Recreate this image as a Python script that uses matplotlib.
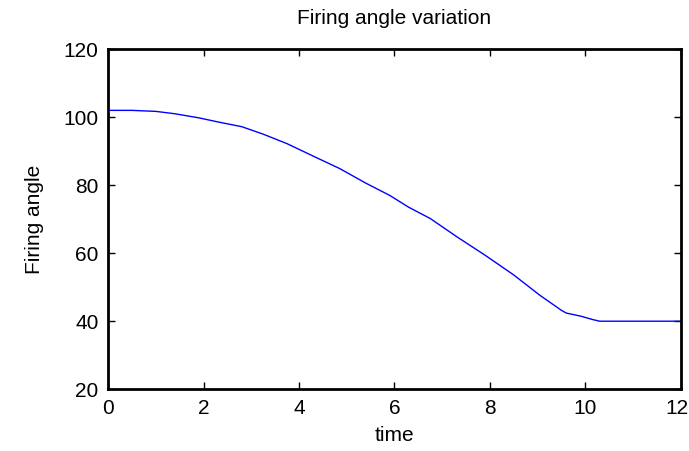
import matplotlib.pyplot as plt
from matplotlib.transforms import ScaledTranslation

# Firing angle vs time
time = [0.0, 0.5, 1.0, 1.4, 1.9, 2.3, 2.8, 3.25, 3.75, 4.35, 4.85, 5.4, 5.9,
        6.3, 6.75, 7.3, 7.9, 8.5, 9.05, 9.5, 9.6, 9.9, 10.15, 10.3, 11.0, 12.0]
angle = [102.0, 102.0, 101.7, 101.0, 99.8, 98.6, 97.2, 95.0, 92.2, 88.2, 84.9, 80.6, 77.0,
         73.5, 70.2, 64.9, 59.4, 53.6, 47.6, 43.2, 42.4, 41.5, 40.5, 40.0, 40.0, 40.0]
xticks = [0, 2, 4, 6, 8, 10, 12]
yticks = [20, 40, 60, 80, 100, 120]

plt.rcParams['font.family'] = ['Liberation Sans', 'DejaVu Sans']

fig = plt.figure(figsize=(6.89, 4.51), dpi=100)
ax = fig.add_axes([0.157, 0.137, 0.831, 0.754])
ax.plot(time, angle, color='#0000ff', linewidth=1.0)

ax.set_xlim(0, 12)
ax.set_ylim(20, 120)
ax.set_xticks(xticks)
ax.set_yticks(yticks)
ax.tick_params(direction='in', top=True, right=True, length=5, width=1,
               labelsize=15, pad=7)
for s in ax.spines.values():
    s.set_linewidth(2)

# keep the last x label inside the figure
lab = ax.get_xticklabels()[-1]
lab.set_transform(lab.get_transform() + ScaledTranslation(-4 / 100, 0, fig.dpi_scale_trans))

ax.set_xlabel("time", fontsize=15, labelpad=6)
ax.set_ylabel("Firing angle", fontsize=15, labelpad=14)
ax.set_title("Firing angle variation", fontsize=15, pad=18)

fig.savefig("out.png", dpi=100)
